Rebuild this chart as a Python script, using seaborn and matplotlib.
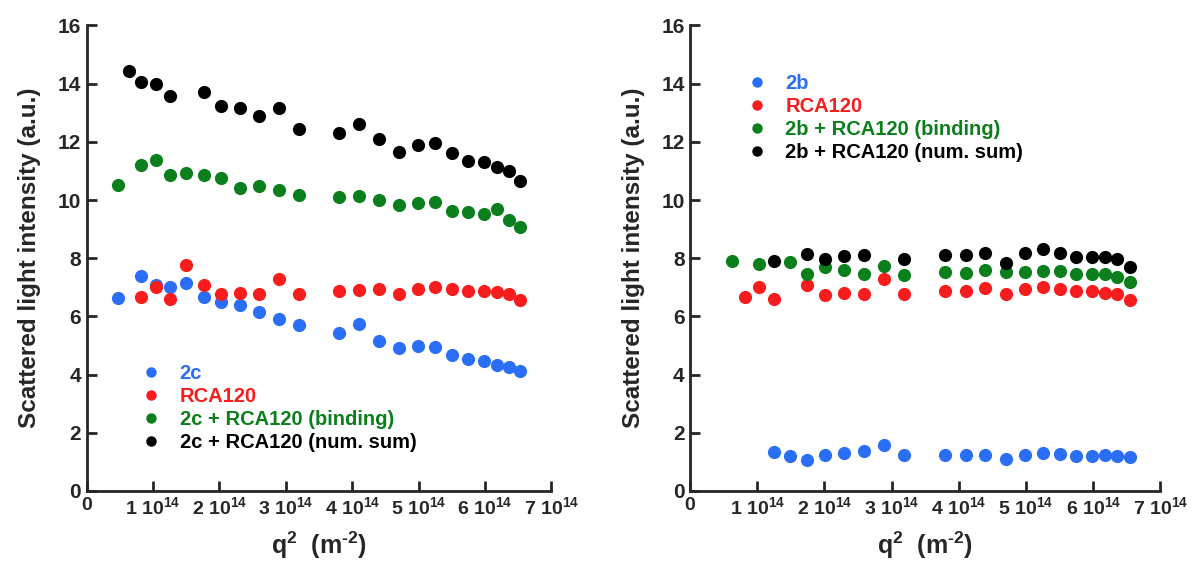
import numpy as np
import pandas as pd
import seaborn as sns
import matplotlib.pyplot as plt
from matplotlib.lines import Line2D

# ===== data (q^2 in units of 1e14 m^-2) =====
# left panel: 2c
q_2c = [0.48, 0.825, 1.04, 1.256, 1.50, 1.762, 2.03, 2.31, 2.60, 2.895, 3.196, 3.80,
        4.11, 4.40, 4.71, 4.985, 5.255, 5.51, 5.75, 5.98, 6.18, 6.36, 6.53]
i_2c = [6.62, 7.39, 7.08, 7.0, 7.16, 6.66, 6.49, 6.38, 6.16, 5.92, 5.72, 5.44,
        5.74, 5.14, 4.91, 4.97, 4.96, 4.68, 4.52, 4.47, 4.32, 4.27, 4.12]
q_rca_l = [0.825, 1.04, 1.256, 1.50, 1.762, 2.03, 2.31, 2.60, 2.895, 3.196, 3.80,
           4.11, 4.40, 4.71, 4.985, 5.255, 5.51, 5.75, 5.98, 6.18, 6.36, 6.53]
i_rca_l = [6.68, 7.0, 6.59, 7.77, 7.08, 6.76, 6.82, 6.77, 7.27, 6.76, 6.88,
           6.90, 6.95, 6.76, 6.95, 7.02, 6.93, 6.86, 6.87, 6.83, 6.77, 6.56]
q_2c_bind = [0.48, 0.825, 1.04, 1.256, 1.50, 1.762, 2.03, 2.31, 2.60, 2.895, 3.196, 3.80,
             4.11, 4.40, 4.71, 4.985, 5.255, 5.51, 5.75, 5.98, 6.18, 6.36, 6.53]
i_2c_bind = [10.50, 11.19, 11.39, 10.85, 10.94, 10.87, 10.77, 10.42, 10.49, 10.33, 10.17, 10.10,
             10.15, 10.0, 9.84, 9.90, 9.94, 9.63, 9.60, 9.52, 9.68, 9.30, 9.07]
q_2c_sum = [0.64, 0.825, 1.04, 1.256, 1.762, 2.03, 2.31, 2.60, 2.895, 3.196, 3.80,
            4.11, 4.40, 4.71, 4.985, 5.255, 5.51, 5.75, 5.98, 6.18, 6.36, 6.53]
i_2c_sum = [14.43, 14.04, 14.0, 13.57, 13.71, 13.23, 13.15, 12.89, 13.15, 12.45, 12.29,
            12.60, 12.09, 11.65, 11.89, 11.97, 11.60, 11.33, 11.30, 11.12, 11.01, 10.64]

# right panel: 2b
q_2b = [1.25, 1.487, 1.74, 2.007, 2.29, 2.59, 2.88, 3.19, 3.79, 4.106, 4.39, 4.70,
        4.98, 5.25, 5.50, 5.75, 5.98, 6.17, 6.36, 6.54]
i_2b = [1.34, 1.21, 1.07, 1.23, 1.29, 1.37, 1.57, 1.22, 1.22, 1.22, 1.22, 1.09,
        1.23, 1.31, 1.26, 1.20, 1.20, 1.25, 1.21, 1.18]
q_rca_r = [0.817, 1.025, 1.25, 1.745, 2.007, 2.29, 2.59, 2.88, 3.19, 3.79, 4.106,
           4.39, 4.70, 4.98, 5.25, 5.50, 5.75, 5.98, 6.17, 6.36, 6.54]
i_rca_r = [6.68, 7.00, 6.59, 7.07, 6.75, 6.81, 6.76, 7.27, 6.76, 6.89, 6.89,
           6.96, 6.76, 6.95, 7.02, 6.94, 6.87, 6.87, 6.82, 6.77, 6.56]
q_2b_bind = [0.624, 1.025, 1.487, 1.745, 2.007, 2.29, 2.59, 2.88, 3.19, 3.79, 4.106,
             4.39, 4.70, 4.98, 5.25, 5.50, 5.75, 5.98, 6.17, 6.36, 6.54]
i_2b_bind = [7.90, 7.81, 7.87, 7.45, 7.69, 7.61, 7.46, 7.74, 7.44, 7.51, 7.50,
             7.59, 7.51, 7.53, 7.57, 7.56, 7.46, 7.46, 7.45, 7.37, 7.17]
q_2b_sum = [1.25, 1.745, 2.007, 2.29, 2.59, 3.19, 3.79, 4.106, 4.39, 4.70,
            4.98, 5.25, 5.50, 5.75, 5.98, 6.17, 6.36, 6.54]
i_2b_sum = [7.91, 8.14, 7.96, 8.07, 8.12, 7.98, 8.11, 8.11, 8.19, 7.84,
            8.18, 8.32, 8.18, 8.03, 8.05, 8.05, 7.97, 7.70]

x_ticks = [0, 1, 2, 3, 4, 5, 6, 7]
x_ticklabels = ["0"] + [f"{k} 10$^{{14}}$" for k in range(1, 8)]
y_ticks = [0, 2, 4, 6, 8, 10, 12, 14, 16]

colors = ["#2a6ef5", "#f81c1c", "#0b7f1c", "#000000"]

# ===== style =====
sns.set_style("ticks")
plt.rcParams["font.family"] = ["Liberation Sans", "DejaVu Sans"]
plt.rcParams["font.weight"] = "bold"
plt.rcParams["mathtext.fontset"] = "custom"
plt.rcParams["mathtext.rm"] = "Liberation Sans:bold"
plt.rcParams["mathtext.it"] = "Liberation Sans:bold"
plt.rcParams["mathtext.bf"] = "Liberation Sans:bold"

fig = plt.figure(figsize=(11.95, 5.61), dpi=100)
ax1 = fig.add_axes([0.0724, 0.1248, 0.389, 0.8298])
ax2 = fig.add_axes([0.5775, 0.1248, 0.3936, 0.8298])

panels = [
    (ax1, "2c", [(q_2c, i_2c), (q_rca_l, i_rca_l), (q_2c_bind, i_2c_bind), (q_2c_sum, i_2c_sum)],
     (0.118, 0.272)),
    (ax2, "2b", [(q_2b, i_2b), (q_rca_r, i_rca_r), (q_2b_bind, i_2b_bind), (q_2b_sum, i_2b_sum)],
     (0.121, 0.895)),
]

for ax, name, series, leg_pos in panels:
    labels = [name, "RCA120", f"{name} + RCA120 (binding)", f"{name} + RCA120 (num. sum)"]
    for (q, inten), col in zip(series, colors):
        df = pd.DataFrame({"q2": q, "I": inten})
        sns.scatterplot(data=df, x="q2", y="I", ax=ax, color=col, s=90,
                        linewidth=0, legend=False, zorder=3)
    ax.set_xlim(0, 7)
    ax.set_ylim(0, 16)
    ax.set_xticks(x_ticks)
    ax.set_xticklabels(x_ticklabels)
    ax.set_yticks(y_ticks)
    ax.tick_params(direction="in", length=7, width=2, pad=4)
    ax.tick_params(axis="x", labelsize=14)
    ax.tick_params(axis="y", labelsize=15)
    for t in ax.get_xticklabels() + ax.get_yticklabels():
        t.set_fontweight("bold")
    sns.despine(ax=ax)
    for sp in ["left", "bottom"]:
        ax.spines[sp].set_linewidth(2)
    ax.set_xlabel(r"q$^2$  (m$^{\text{-}2}$)", fontsize=18, fontweight="bold", labelpad=8)
    ax.set_ylabel("Scattered light intensity (a.u.)", fontsize=17.5, fontweight="bold", labelpad=12)

    handles = [Line2D([], [], marker="o", linestyle="none", markersize=7.5,
                      markerfacecolor=c, markeredgewidth=0) for c in colors]
    leg = ax.legend(handles, labels, loc="upper left", bbox_to_anchor=leg_pos,
                    frameon=False, fontsize=14.5, handlelength=1, handletextpad=0.9,
                    borderpad=0, borderaxespad=0, labelspacing=0.2)
    for txt, c in zip(leg.get_texts(), colors):
        txt.set_color(c)
        txt.set_fontweight("bold")

fig.savefig("out.png", dpi=100)
